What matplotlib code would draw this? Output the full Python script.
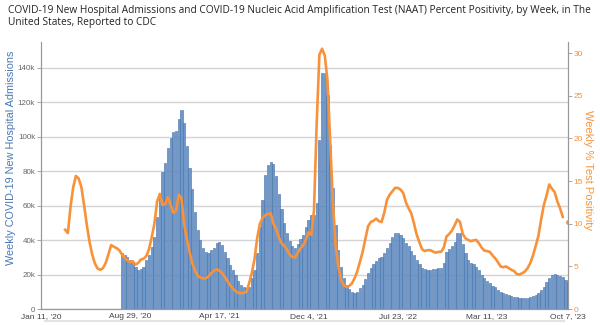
import numpy as np
import pandas as pd
import matplotlib
matplotlib.use("Agg")
import matplotlib.pyplot as plt
from matplotlib.lines import Line2D

# weekly new hospital admissions, weeks from 2020-08-08 to 2023-10-07
admissions = [
    32.5, 31.4, 30.4, 28.5, 27.5, 24.6, 22.7, 23.1, 24.6, 28.5, 31.4, 36.2,
    42.0, 53.7, 66.3, 79.8, 84.7, 93.4, 99.2, 102.5, 103.1, 110.0, 115.7,
    108.0, 94.7, 82.0, 69.7, 56.6, 45.9, 40.0, 35.4, 33.3, 32.4, 34.3, 35.4,
    38.3, 39.0, 37.2, 33.3, 29.5, 25.6, 22.7, 19.8, 16.5, 14.0, 13.0, 12.0,
    13.0, 18.0, 22.7, 32.4, 47.8, 63.4, 77.9, 83.7, 85.6, 84.0, 77.0, 67.0,
    58.0, 50.0, 44.0, 39.5, 36.6, 35.3, 37.5, 40.5, 43.0, 47.5, 51.7, 54.7,
    54.7, 61.4, 98.0, 137.0, 137.0, 124.4, 95.3, 70.1, 48.8, 34.3, 24.6, 17.8,
    14.0, 11.4, 9.7, 9.5, 10.0, 12.0, 14.0, 17.2, 20.7, 23.6, 26.1, 28.1,
    29.5, 30.4, 32.4, 35.3, 38.2, 42.0, 44.4, 44.0, 43.0, 41.1, 38.2, 36.6,
    33.9, 31.4, 28.5, 26.1, 23.6, 23.0, 22.7, 22.7, 23.0, 23.3, 23.6, 23.6,
    26.6, 33.3, 34.7, 36.6, 39.1, 44.0, 44.4, 37.8, 32.4, 28.5, 26.6, 26.1,
    24.6, 22.7, 19.8, 17.8, 16.5, 14.9, 13.6, 12.6, 11.0, 9.7, 9.1, 8.5,
    8.0, 7.6, 7.2, 6.8, 6.4, 6.2, 6.2, 6.4, 6.8, 7.6, 8.1, 9.1,
    11.0, 13.0, 15.9, 17.8, 19.8, 20.3, 19.8, 19.2, 18.4, 16.9, 15.9,
]
admissions = [v * 1000 for v in admissions]

# weekly NAAT percent positivity, weeks from 2020-03-14 to 2023-10-07
positivity = [
    9.3, 8.9, 12.0, 14.3, 15.6, 15.3, 14.3, 12.2, 9.9, 7.9, 6.4, 5.35,
    4.75, 4.6, 4.8, 5.4, 6.4, 7.5, 7.3, 7.15, 6.9, 6.4, 6.0, 5.7,
    5.5, 5.6, 5.2, 5.4, 5.8, 5.9, 6.2, 7.0, 8.4, 10.0, 12.6, 13.5,
    12.2, 12.3, 13.1, 12.2, 11.3, 11.5, 13.4, 13.0, 10.0, 8.2, 6.7, 5.4,
    4.5, 3.9, 3.7, 3.6, 3.6, 3.8, 4.2, 4.5, 4.65, 4.5, 4.2, 3.8,
    3.3, 2.8, 2.4, 2.1, 1.9, 1.85, 1.9, 2.0, 3.0, 4.2, 5.8, 8.3,
    10.0, 10.7, 11.0, 11.15, 11.2, 10.0, 9.4, 8.4, 7.7, 7.4, 7.0, 6.4,
    6.1, 6.05, 6.6, 7.1, 7.5, 8.1, 9.0, 8.7, 11.5, 21.7, 29.8, 30.5,
    29.7, 26.8, 19.5, 12.5, 7.5, 5.0, 3.4, 2.8, 2.6, 2.7, 3.0, 3.6,
    4.4, 5.55, 6.7, 8.2, 9.7, 10.2, 10.35, 10.6, 10.3, 10.2, 11.3, 12.8,
    13.4, 13.8, 14.2, 14.2, 14.0, 13.6, 12.5, 11.8, 11.2, 10.0, 8.7, 7.8,
    7.0, 6.8, 6.9, 6.9, 6.75, 6.6, 6.7, 6.7, 7.2, 8.5, 8.8, 9.2,
    9.8, 10.5, 10.2, 8.8, 8.3, 8.1, 7.95, 8.05, 8.1, 7.7, 7.2, 6.85,
    6.8, 6.7, 6.3, 5.95, 5.5, 5.0, 4.9, 5.0, 4.8, 4.6, 4.45, 4.1,
    4.05, 4.2, 4.4, 4.8, 5.4, 6.3, 7.4, 8.6, 10.5, 12.2, 13.3, 14.6,
    14.1, 13.7, 12.6, 11.8, 10.8, np.nan, 10.2,
]

tick_dates = ["2020-01-11", "2020-08-29", "2021-04-17", "2021-12-04",
              "2022-07-23", "2023-03-11", "2023-10-07"]
tick_labels = ["Jan 11, '20", "Aug 29, '20", "Apr 17, '21", "Dec 4, '21",
               "Jul 23, '22", "Mar 11, '23", "Oct 7, '23"]
left_ticks = [0, 20000, 40000, 60000, 80000, 100000, 120000, 140000]
left_labels = ["0", "20k", "40k", "60k", "80k", "100k", "120k", "140k"]
right_ticks = [0, 5, 10, 15, 20, 25, 30]

title = ("COVID-19 New Hospital Admissions and COVID-19 Nucleic Acid Amplification "
         "Test (NAAT) Percent Positivity, by Week, in The\nUnited States, Reported to CDC")

bar_dates = pd.date_range("2020-08-08", periods=len(admissions), freq="7D")
line_dates = pd.date_range("2023-10-07", periods=len(positivity), freq="-7D")[::-1]

blue = "#6f98ca"
blue_edge = "#4470aa"
label_blue = "#4a78b4"
orange = "#f7923a"
gray = "#666666"

fig = plt.figure(figsize=(6, 3.25), dpi=100)
ax = fig.add_axes([0.068, 0.049, 0.879, 0.822])
ax2 = ax.twinx()

ax.bar(bar_dates, admissions, width=5.6, color=blue, edgecolor=blue_edge,
       linewidth=0.4, zorder=2)
ax.set_ylim(0, 155000)
ax.set_yticks(left_ticks)
ax.set_yticklabels(left_labels)
ax.grid(axis="y", color="#d4d4d4", linewidth=1.0, zorder=0)
ax.set_axisbelow(True)

ax2.plot(line_dates, positivity, color=orange, linewidth=1.9, zorder=3)
last = positivity[-1]
ax2.plot(line_dates[-1:], [last], "o", color=orange, markersize=2.5)
ax2.set_ylim(0, 31.3)
ax2.set_yticks(right_ticks)

ax.set_xlim(pd.Timestamp("2020-01-11"), pd.Timestamp("2023-10-07"))
ax.set_xticks([pd.Timestamp(d) for d in tick_dates])
ax.set_xticklabels(tick_labels)

for a in (ax, ax2):
    a.spines["top"].set_visible(False)
    a.spines["left"].set_color("#999999")
    a.spines["right"].set_color("#999999")
    a.spines["bottom"].set_color("#999999")

ax.tick_params(axis="x", labelsize=6.0, colors="#444444", length=0, pad=3)
ax.tick_params(axis="y", labelsize=5.8, labelcolor=gray, color="#999999",
               length=3, width=0.6, pad=1)
ax2.tick_params(axis="y", labelsize=6.0, labelcolor=orange, color="#999999",
                length=3, width=0.6, pad=1)
for lab in ax.get_yticklabels() + ax.get_xticklabels() + ax2.get_yticklabels():
    lab.set_fontfamily("Liberation Sans")

ax.set_ylabel("Weekly COVID-19 New Hospital Admissions", color=label_blue,
              fontsize=7.8, family="Liberation Sans", va="center")
ax.yaxis.set_label_coords(-0.056, 0.565)
ax2.set_ylabel("Weekly % Test Positivity", color=orange, fontsize=8.0,
               family="Liberation Sans", rotation=-90, va="center")
ax2.yaxis.set_label_coords(1.038, 0.52)

fig.text(0.013, 0.985, title, ha="left", va="top", fontsize=7.3,
         family="Open Sans", color="#222222", linespacing=1.1)

fig.add_artist(Line2D([0.075, 0.94], [0.012, 0.012], color="#e3e3e3",
                      linewidth=1.5))

fig.savefig("out.png", dpi=100)
